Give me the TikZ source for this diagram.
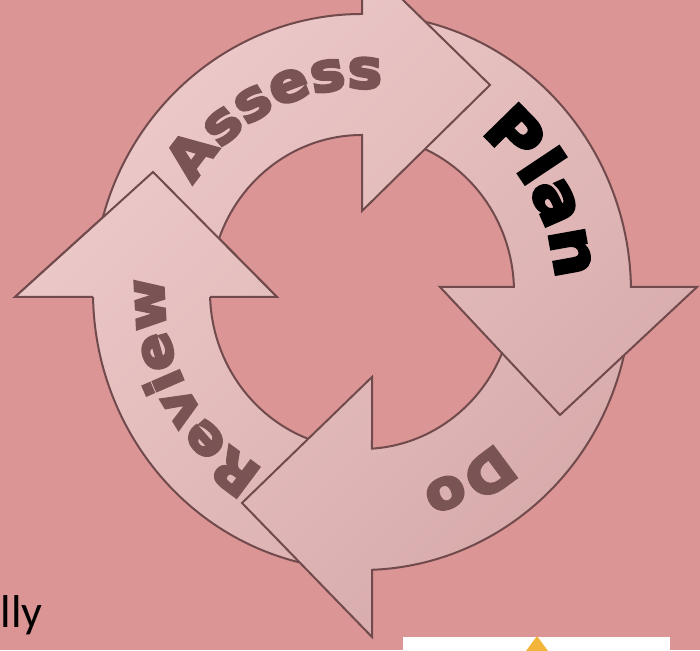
\documentclass[tikz,border=0pt]{standalone}
\usepackage{fontspec}
\usetikzlibrary{decorations.text}
\newfontfamily\heavyfont{DejaVu Sans}[FakeBold=5,FakeStretch=1.08]
\newfontfamily\calfont{Carlito}
\definecolor{bgc}{RGB}{219,149,148}
\definecolor{ringhi}{RGB}{238,203,203}
\definecolor{ringlo}{RGB}{214,168,168}
\definecolor{edgec}{RGB}{112,74,76}
\definecolor{txtc}{RGB}{122,84,84}
\definecolor{signy}{RGB}{242,181,58}
\tikzset{
  ringfill/.style={path picture={\shade[shading=axis, top color=ringhi, bottom color=ringlo, shading angle=45] (0,0) rectangle (700,650);}},
  ringedge/.style={draw=edgec, line width=2pt, line join=miter},
  arrowbody/.style={ringfill, ringedge},
}
\begin{document}
\begin{tikzpicture}[x=1pt,y=1pt]
\useasboundingbox (0,0) rectangle (700,650);
\clip (0,0) rectangle (700,650);
\fill[bgc] (0,0) rectangle (700,650);
\coordinate (C) at (362,358);
% Review arrow
\path[arrowbody] (C) ++(260:152 and 157) arc[start angle=260, end angle=181.8, x radius=152, y radius=157]
  -- (277,353) -- (153,478) -- (15,353) -- (93.04,353)
  arc[start angle=181.03, end angle=260, x radius=269, y radius=278] -- cycle;
% Do arrow
\path[arrowbody] (C) ++(-10:152 and 157) arc[start angle=-10, end angle=-86.23, x radius=152, y radius=157]
  -- (372,273) -- (242,147) -- (372,13) -- (372,80.19)
  arc[start angle=-87.87, end angle=-10, x radius=269, y radius=278] -- cycle;
% Plan arrow
\path[arrowbody] (C) ++(80:152 and 157) arc[start angle=80, end angle=1.825, x radius=152, y radius=157]
  -- (440,363) -- (560,235) -- (697,363) -- (630.96,363)
  arc[start angle=1.0306, end angle=80, x radius=269, y radius=278] -- cycle;
% Assess arrow
\path[arrowbody] (C) ++(170:152 and 157) arc[start angle=170, end angle=90, x radius=152, y radius=157]
  -- (362,439) -- (490,565) -- (362,690) -- (362,636)
  arc[start angle=90, end angle=170, x radius=269, y radius=278] -- cycle;
% Review head on top of Assess shaft
\path[ringfill] (277,353) -- (153,478) -- (15,353) -- cycle;
\draw[ringedge] (210.07,353.07) -- (277,353) -- (153,478) -- (15,353) -- (93.04,353);
% texts
\path[decorate, decoration={text along path, text align=center, text color=txtc,
  text={|\heavyfont\bfseries\fontsize{54}{54}\selectfont|Assess}}]
  (C) ++(176:198 and 204) arc[start angle=176, end angle=56, x radius=198, y radius=204];
\path[decorate, decoration={text along path, text align=center, text color=black,
  text={|\heavyfont\bfseries\fontsize{64}{64}\selectfont|Plan}}]
  (C) ++(88.5:194 and 200) arc[start angle=88.5, end angle=-31.5, x radius=194, y radius=200];
\path[decorate, decoration={text along path, text align=center, text color=txtc,
  text={|\heavyfont\bfseries\fontsize{54}{54}\selectfont|Do}}]
  (C) ++(-0.5:198 and 204) arc[start angle=-0.5, end angle=-120.5, x radius=198, y radius=204];
\path[decorate, decoration={text along path, text align=center, text color=txtc,
  text={|\heavyfont\bfseries\fontsize{52}{52}\selectfont|Review}}]
  (C) ++(268.5:198 and 204) arc[start angle=268.5, end angle=148.5, x radius=198, y radius=204];
% bottom items
\node[font=\calfont\fontsize{46}{46}\selectfont, anchor=base east, inner sep=0pt] (lly) at (43,23) {lly};
\fill[white] (403,-1) rectangle (670,13);
\fill[signy] (537,14) -- (526,-1) -- (548,-1) -- cycle;
\end{tikzpicture}
\end{document}
